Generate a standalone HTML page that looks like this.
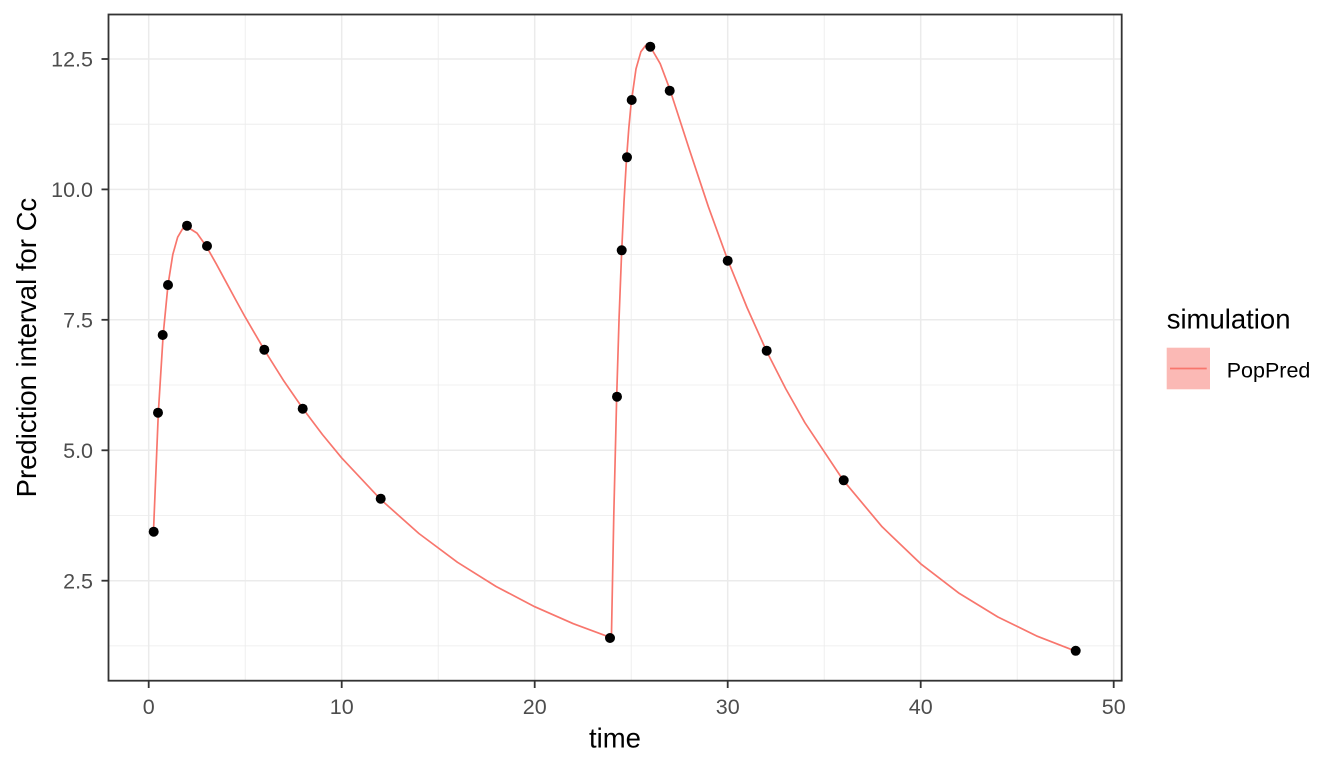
<!DOCTYPE html>
<html>
<head>
<meta charset="utf-8">
<style>
  html, body { margin: 0; padding: 0; background: #ffffff; }
  svg { display: block; }
  text { font-family: "Liberation Sans", Arial, sans-serif; }
</style>
</head>
<body>
<svg width="1344" height="768" viewBox="0 0 1344 768" xmlns="http://www.w3.org/2000/svg">
  <rect x="0" y="0" width="1344" height="768" fill="#ffffff"/>
  <defs>
    <clipPath id="panel">
      <rect x="108.5" y="14.5" width="1013.2" height="666.2"/>
    </clipPath>
  </defs>

  <!-- minor gridlines -->
  <g stroke="#EBEBEB" stroke-width="0.8" fill="none">
    <line x1="108.5" x2="1121.7" y1="645.9" y2="645.9"/>
    <line x1="108.5" x2="1121.7" y1="515.5" y2="515.5"/>
    <line x1="108.5" x2="1121.7" y1="385.0" y2="385.0"/>
    <line x1="108.5" x2="1121.7" y1="254.6" y2="254.6"/>
    <line x1="108.5" x2="1121.7" y1="124.2" y2="124.2"/>
    <line y1="14.5" y2="680.7" x1="245.2" x2="245.2"/>
    <line y1="14.5" y2="680.7" x1="438.2" x2="438.2"/>
    <line y1="14.5" y2="680.7" x1="631.2" x2="631.2"/>
    <line y1="14.5" y2="680.7" x1="824.2" x2="824.2"/>
    <line y1="14.5" y2="680.7" x1="1017.2" x2="1017.2"/>
  </g>
  <!-- major gridlines -->
  <g stroke="#EBEBEB" stroke-width="1.5" fill="none">
    <line x1="108.5" x2="1121.7" y1="580.7" y2="580.7"/>
    <line x1="108.5" x2="1121.7" y1="450.3" y2="450.3"/>
    <line x1="108.5" x2="1121.7" y1="319.8" y2="319.8"/>
    <line x1="108.5" x2="1121.7" y1="189.4" y2="189.4"/>
    <line x1="108.5" x2="1121.7" y1="59.0" y2="59.0"/>
    <line y1="14.5" y2="680.7" x1="148.7" x2="148.7"/>
    <line y1="14.5" y2="680.7" x1="341.7" x2="341.7"/>
    <line y1="14.5" y2="680.7" x1="534.7" x2="534.7"/>
    <line y1="14.5" y2="680.7" x1="727.7" x2="727.7"/>
    <line y1="14.5" y2="680.7" x1="920.7" x2="920.7"/>
    <line y1="14.5" y2="680.7" x1="1113.7" x2="1113.7"/>
  </g>

  <!-- PopPred line -->
  <g clip-path="url(#panel)" fill="none" stroke="#F8766D" stroke-width="1.7" stroke-linejoin="round" stroke-linecap="butt">
    <polyline points="153.5,531.1 158.35,412.2 163.2,334.4 168,284.9 172.8,254.5 177.65,237.2 182.5,228.9 187.3,227.0 197,233.1 206.6,246.8 216.3,263.9 225.9,281.7 235.6,299.6 245.2,317.1 264.5,350.2 283.8,380.9 303.1,408.9 322.4,434.5 341.7,457.9 380.3,499.1 418.9,533.5 457.5,562.3 496.1,586.5 534.7,606.7 573.3,623.7 610.5,637.5"/>
    <polyline points="610.5,637.5 611.4,638.1 613.8,514.7 616.7,396.0 619.1,317.2 621.6,253.0 624,201.8 626.4,160.7 628.8,128.3 631.2,102.8 636,68.9 640.9,51.7 645.7,45.4 650.5,47.0 660.2,63.7 669.8,89.2 689.1,148.7 708.4,206.8 727.7,259.9 747,307.5 766.3,350.6 785.6,388.5 804.9,422.7 843.5,480.6 882.1,526.8 920.7,563.8 959.3,593.4 997.9,617.0 1036.5,635.9 1075.1,650.9"/>
  </g>

  <!-- observed points -->
  <g fill="#000000">
    <circle cx="153.7" cy="531.7" r="5"/>
    <circle cx="158" cy="412.7" r="5"/>
    <circle cx="162.7" cy="335" r="5"/>
    <circle cx="168" cy="285" r="5"/>
    <circle cx="187" cy="225.7" r="5"/>
    <circle cx="207" cy="246" r="5"/>
    <circle cx="264.3" cy="349.7" r="5"/>
    <circle cx="302.7" cy="408.7" r="5"/>
    <circle cx="380.7" cy="498.7" r="5"/>
    <circle cx="610" cy="638" r="5"/>
    <circle cx="617" cy="396.7" r="5"/>
    <circle cx="621.7" cy="250.3" r="5"/>
    <circle cx="627" cy="157.3" r="5"/>
    <circle cx="631.7" cy="100" r="5"/>
    <circle cx="650.3" cy="46.7" r="5"/>
    <circle cx="669.7" cy="90.7" r="5"/>
    <circle cx="727.7" cy="260.7" r="5"/>
    <circle cx="766.7" cy="350.7" r="5"/>
    <circle cx="843.7" cy="480.3" r="5"/>
    <circle cx="1075.7" cy="650.8" r="5"/>
  </g>

  <!-- panel border -->
  <rect x="108.5" y="14.5" width="1013.2" height="666.2" fill="none" stroke="#333333" stroke-width="1.8"/>

  <!-- ticks -->
  <g stroke="#333333" stroke-width="1.8">
    <line x1="101.5" x2="108.5" y1="580.7" y2="580.7"/>
    <line x1="101.5" x2="108.5" y1="450.3" y2="450.3"/>
    <line x1="101.5" x2="108.5" y1="319.8" y2="319.8"/>
    <line x1="101.5" x2="108.5" y1="189.4" y2="189.4"/>
    <line x1="101.5" x2="108.5" y1="59.0" y2="59.0"/>
    <line y1="680.7" y2="688" x1="148.7" x2="148.7"/>
    <line y1="680.7" y2="688" x1="341.7" x2="341.7"/>
    <line y1="680.7" y2="688" x1="534.7" x2="534.7"/>
    <line y1="680.7" y2="688" x1="727.7" x2="727.7"/>
    <line y1="680.7" y2="688" x1="920.7" x2="920.7"/>
    <line y1="680.7" y2="688" x1="1113.7" x2="1113.7"/>
  </g>

  <!-- y tick labels -->
  <g fill="#4D4D4D" font-size="21.5" text-anchor="end">
    <text x="93" y="588.3">2.5</text>
    <text x="93" y="457.9">5.0</text>
    <text x="93" y="327.4">7.5</text>
    <text x="93" y="197.0">10.0</text>
    <text x="93" y="66.6">12.5</text>
  </g>
  <!-- x tick labels -->
  <g fill="#4D4D4D" font-size="21.5" text-anchor="middle">
    <text x="148.7" y="714">0</text>
    <text x="341.7" y="714">10</text>
    <text x="534.7" y="714">20</text>
    <text x="727.7" y="714">30</text>
    <text x="920.7" y="714">40</text>
    <text x="1113.7" y="714">50</text>
  </g>

  <!-- axis titles -->
  <text x="615" y="747.3" font-size="27.5" fill="#000000" text-anchor="middle">time</text>
  <text transform="translate(36,347.6) rotate(-90)" x="0" y="0" font-size="27.5" fill="#000000" text-anchor="middle">Prediction interval for Cc</text>

  <!-- legend -->
  <text x="1166.7" y="328.3" font-size="27.5" fill="#000000">simulation</text>
  <rect x="1166.7" y="347.7" width="43.3" height="41.6" fill="#FBB9B5"/>
  <line x1="1170" x2="1206.7" y1="368.5" y2="368.5" stroke="#F8766D" stroke-width="1.7"/>
  <text x="1226.7" y="377.3" font-size="21.5" fill="#000000">PopPred</text>
</svg>
</body>
</html>
